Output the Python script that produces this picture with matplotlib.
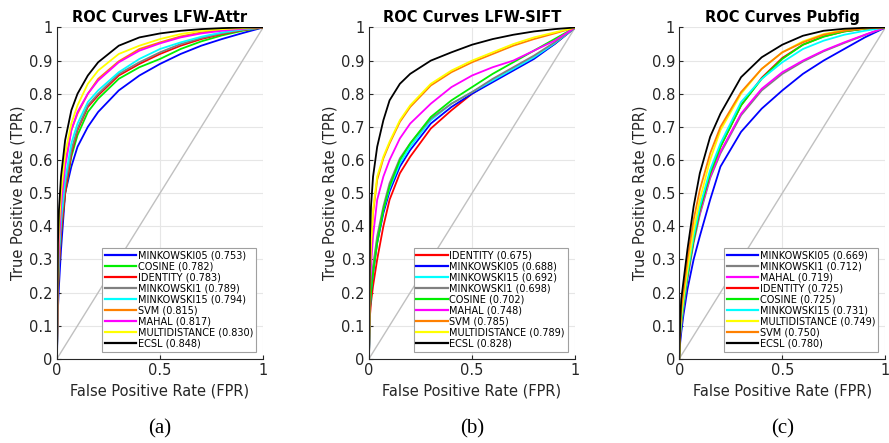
import numpy as np
import matplotlib
matplotlib.use("Agg")
import matplotlib.pyplot as plt

fpr = [0, 0.005, 0.01, 0.02, 0.04, 0.07, 0.1, 0.15, 0.2, 0.3, 0.4, 0.5, 0.6, 0.7, 0.8, 0.9, 1.0]

colors = {
    "MINKOWSKI05": "#0000ff",
    "COSINE": "#00ee00",
    "IDENTITY": "#ff0000",
    "MINKOWSKI1": "#808080",
    "MINKOWSKI15": "#00ffff",
    "SVM": "#ff8000",
    "MAHAL": "#ff00ff",
    "MULTIDISTANCE": "#ffff00",
    "ECSL": "#000000",
}

# LFW-Attr
attr_names = ["MINKOWSKI05", "COSINE", "IDENTITY", "MINKOWSKI1", "MINKOWSKI15",
              "SVM", "MAHAL", "MULTIDISTANCE", "ECSL"]
attr_auc = [0.753, 0.782, 0.783, 0.789, 0.794, 0.815, 0.817, 0.830, 0.848]
attr_tpr = [
    [0, 0.15, 0.22, 0.33, 0.50, 0.58, 0.64, 0.70, 0.745, 0.81, 0.855, 0.89, 0.92, 0.945, 0.965, 0.983, 1],
    [0, 0.20, 0.28, 0.38, 0.50, 0.61, 0.675, 0.745, 0.785, 0.845, 0.88, 0.905, 0.935, 0.958, 0.976, 0.99, 1],
    [0, 0.20, 0.28, 0.38, 0.50, 0.62, 0.69, 0.76, 0.795, 0.855, 0.89, 0.92, 0.945, 0.965, 0.98, 0.992, 1],
    [0, 0.22, 0.30, 0.40, 0.52, 0.63, 0.695, 0.765, 0.80, 0.86, 0.895, 0.925, 0.95, 0.968, 0.982, 0.993, 1],
    [0, 0.22, 0.32, 0.42, 0.54, 0.65, 0.71, 0.775, 0.81, 0.865, 0.905, 0.935, 0.955, 0.972, 0.985, 0.994, 1],
    [0, 0.27, 0.36, 0.47, 0.59, 0.69, 0.74, 0.80, 0.845, 0.898, 0.935, 0.955, 0.973, 0.985, 0.993, 0.997, 1],
    [0, 0.25, 0.35, 0.46, 0.58, 0.69, 0.745, 0.80, 0.84, 0.895, 0.93, 0.952, 0.97, 0.982, 0.99, 0.996, 1],
    [0, 0.30, 0.40, 0.50, 0.62, 0.71, 0.765, 0.83, 0.87, 0.92, 0.945, 0.965, 0.98, 0.99, 0.995, 0.998, 1],
    [0, 0.35, 0.45, 0.55, 0.66, 0.75, 0.80, 0.855, 0.895, 0.945, 0.97, 0.982, 0.99, 0.995, 0.998, 1.0, 1],
]

# LFW-SIFT
sift_names = ["IDENTITY", "MINKOWSKI05", "MINKOWSKI15", "MINKOWSKI1", "COSINE",
              "MAHAL", "SVM", "MULTIDISTANCE", "ECSL"]
sift_auc = [0.675, 0.688, 0.692, 0.698, 0.702, 0.748, 0.785, 0.789, 0.828]
sift_tpr = [
    [0, 0.13, 0.17, 0.22, 0.30, 0.40, 0.48, 0.56, 0.61, 0.695, 0.75, 0.80, 0.84, 0.875, 0.91, 0.95, 1],
    [0, 0.15, 0.20, 0.26, 0.35, 0.44, 0.505, 0.58, 0.63, 0.71, 0.76, 0.80, 0.835, 0.87, 0.905, 0.95, 1],
    [0, 0.16, 0.21, 0.27, 0.36, 0.45, 0.515, 0.59, 0.64, 0.72, 0.77, 0.805, 0.84, 0.875, 0.91, 0.952, 1],
    [0, 0.17, 0.22, 0.28, 0.37, 0.46, 0.53, 0.605, 0.65, 0.725, 0.77, 0.805, 0.845, 0.88, 0.915, 0.955, 1],
    [0, 0.15, 0.20, 0.26, 0.35, 0.45, 0.52, 0.60, 0.65, 0.73, 0.78, 0.82, 0.86, 0.895, 0.93, 0.965, 1],
    [0, 0.20, 0.28, 0.37, 0.48, 0.55, 0.60, 0.665, 0.71, 0.77, 0.82, 0.855, 0.88, 0.90, 0.93, 0.96, 1],
    [0, 0.26, 0.34, 0.44, 0.54, 0.605, 0.65, 0.715, 0.76, 0.825, 0.865, 0.895, 0.92, 0.945, 0.965, 0.982, 1],
    [0, 0.27, 0.35, 0.45, 0.55, 0.61, 0.655, 0.72, 0.765, 0.83, 0.87, 0.90, 0.925, 0.95, 0.97, 0.985, 1],
    [0, 0.36, 0.46, 0.55, 0.64, 0.72, 0.78, 0.83, 0.86, 0.90, 0.925, 0.948, 0.965, 0.978, 0.988, 0.995, 1],
]

# Pubfig
pub_names = ["MINKOWSKI05", "MINKOWSKI1", "MAHAL", "IDENTITY", "COSINE",
             "MINKOWSKI15", "MULTIDISTANCE", "SVM", "ECSL"]
pub_auc = [0.669, 0.712, 0.719, 0.725, 0.725, 0.731, 0.749, 0.750, 0.780]
pub_tpr = [
    [0, 0.05, 0.08, 0.13, 0.21, 0.30, 0.37, 0.48, 0.58, 0.685, 0.755, 0.81, 0.86, 0.90, 0.935, 0.97, 1],
    [0, 0.07, 0.10, 0.15, 0.24, 0.35, 0.435, 0.545, 0.62, 0.735, 0.81, 0.86, 0.897, 0.928, 0.953, 0.977, 1],
    [0, 0.08, 0.11, 0.16, 0.25, 0.36, 0.44, 0.55, 0.625, 0.74, 0.815, 0.865, 0.90, 0.93, 0.955, 0.978, 1],
    [0, 0.08, 0.115, 0.165, 0.255, 0.36, 0.45, 0.56, 0.64, 0.765, 0.848, 0.908, 0.948, 0.973, 0.988, 0.996, 1],
    [0, 0.08, 0.11, 0.16, 0.25, 0.36, 0.45, 0.56, 0.64, 0.765, 0.845, 0.905, 0.948, 0.972, 0.988, 0.996, 1],
    [0, 0.08, 0.12, 0.17, 0.26, 0.37, 0.46, 0.57, 0.65, 0.775, 0.845, 0.895, 0.935, 0.96, 0.978, 0.99, 1],
    [0, 0.09, 0.13, 0.18, 0.27, 0.39, 0.48, 0.60, 0.69, 0.80, 0.875, 0.925, 0.958, 0.98, 0.992, 0.998, 1],
    [0, 0.10, 0.15, 0.20, 0.30, 0.42, 0.51, 0.62, 0.70, 0.805, 0.875, 0.925, 0.955, 0.978, 0.99, 0.997, 1],
    [0, 0.12, 0.18, 0.23, 0.33, 0.46, 0.56, 0.67, 0.74, 0.85, 0.91, 0.948, 0.975, 0.99, 0.996, 0.999, 1],
]

panels = [
    ("ROC Curves LFW-Attr", attr_names, attr_auc, attr_tpr, "(a)"),
    ("ROC Curves LFW-SIFT", sift_names, sift_auc, sift_tpr, "(b)"),
    ("ROC Curves Pubfig", pub_names, pub_auc, pub_tpr, "(c)"),
]

dark = "#262626"
fig = plt.figure(figsize=(8.89, 4.43), dpi=100)
lefts = [0.064, 0.415, 0.764]

for left, (title, names, aucs, tprs, sub) in zip(lefts, panels):
    ax = fig.add_axes([left, 0.19, 0.232, 0.748])
    ax.plot([0, 1], [0, 1], color="#c0c0c0", linewidth=1.0, zorder=1)
    for name, auc, tpr in zip(names, aucs, tprs):
        ax.plot(fpr, tpr, color=colors[name], linewidth=1.3,
                label=f"{name} ({auc:.3f})", zorder=2)
    ax.set_xlim(0, 1)
    ax.set_ylim(0, 1)
    ax.set_xticks([0, 0.5, 1])
    ax.set_xticklabels(["0", "0.5", "1"])
    ax.set_yticks(np.arange(0, 1.01, 0.1))
    ax.set_yticklabels(["0"] + [f"{v:.1f}" for v in np.arange(0.1, 0.95, 0.1)] + ["1"])
    ax.grid(True, color="#e6e6e6", linewidth=0.8)
    ax.set_axisbelow(True)
    for s in ["top", "right"]:
        ax.spines[s].set_visible(False)
    for s in ["left", "bottom"]:
        ax.spines[s].set_color(dark)
    ax.tick_params(direction="in", length=3, colors=dark, labelsize=10.5, pad=3)
    ax.set_xlabel("False Positive Rate (FPR)", fontsize=10.5, color=dark, labelpad=4)
    ax.set_ylabel("True Positive Rate (TPR)", fontsize=10.5, color=dark, labelpad=3)
    ax.set_title(title, fontsize=10.5, fontweight="bold", pad=4)
    leg = ax.legend(loc="lower right", fontsize=7, frameon=True, fancybox=False,
                    handlelength=3.2, handletextpad=0.2, labelspacing=0.1,
                    borderpad=0.3, borderaxespad=0.75, framealpha=1)
    leg.get_frame().set_edgecolor("#a0a0a0")
    leg.get_frame().set_linewidth(0.8)
    for line in leg.get_lines():
        line.set_linewidth(1.6)
    ax.text(0.5, -0.21, sub, transform=ax.transAxes, ha="center", va="center",
            fontsize=15, family="Liberation Serif")

fig.savefig("out.png", dpi=100)
